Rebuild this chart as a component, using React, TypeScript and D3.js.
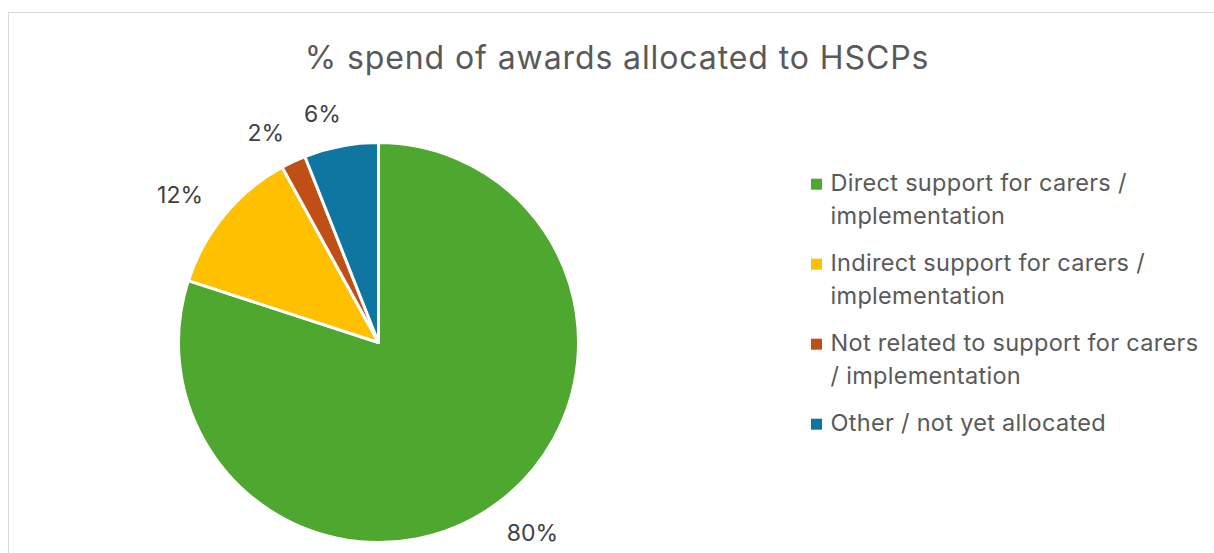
import React from "react";
import * as d3 from "d3";

const title = "% spend of awards allocated to HSCPs";
const categories = [
  "Direct support for carers / implementation",
  "Indirect support for carers / implementation",
  "Not related to support for carers / implementation",
  "Other / not yet allocated",
];
const values = [80, 12, 2, 6];
const valueLabels = ["80%", "12%", "2%", "6%"];
const colors = ["#4EA72E", "#FFC000", "#C04F15", "#0E76A0"];

const W = 1214;
const H = 553;
const FONT = "Inter, 'Liberation Sans', Arial, sans-serif";

function wrap(text: string, maxChars: number): string[] {
  const words = text.split(" ");
  const lines: string[] = [];
  let cur = "";
  for (const w of words) {
    const t = cur ? cur + " " + w : w;
    if (t.length > maxChars && cur) {
      lines.push(cur);
      cur = w;
    } else cur = t;
  }
  if (cur) lines.push(cur);
  return lines;
}

export default function App() {
  const cx = 378.5;
  const cy = 342.5;
  const r = 200;
  const pie = d3.pie<number>().sort(null).value((d) => d)(values);
  const arc = d3.arc<d3.PieArcDatum<number>>().innerRadius(0).outerRadius(r);

  const labelFont = 23;
  const capH = labelFont * 0.727;
  const gap = 23;
  const angleShift = (-3 * Math.PI) / 180;

  const legendX = 811;
  const lineH = 33;
  const itemGap = 14;
  let y = 190.7;
  const legendItems = categories.map((c, i) => {
    const lines = wrap(c, 34);
    const item = { lines, y, color: colors[i] };
    y += lines.length * lineH + itemGap;
    return item;
  });

  return (
    <svg
      width={W}
      height={H}
      style={{ position: "absolute", left: 0, top: 0, background: "#fff" }}
      fontFamily={FONT}
    >
      <rect x={8.5} y={12.5} width={1300} height={700} fill="#fff" stroke="#D9D9D9" strokeWidth={1} />
      <text x={617} y={68.5} textAnchor="middle" fontSize={32} letterSpacing={0.9} fill="#595959">
        {title}
      </text>
      <g transform={`translate(${cx},${cy})`}>
        {pie.map((p, i) => (
          <path key={i} d={arc(p) || ""} fill={colors[i]} stroke="#fff" strokeWidth={3} strokeLinejoin="round" />
        ))}
        {pie.map((p, i) => {
          const mid = (p.startAngle + p.endAngle) / 2 + angleShift;
          const ux = Math.sin(mid);
          const uy = -Math.cos(mid);
          const label = valueLabels[i];
          const w = label.length === 3 ? 48 : 34;
          const proj = Math.abs(ux) * (w / 2) + Math.abs(uy) * (capH / 2);
          const d = r + gap + proj;
          return (
            <text
              key={i}
              x={ux * d}
              y={uy * d + capH / 2}
              textAnchor="middle"
              fontSize={labelFont}
              fill="#404040"
            >
              {label}
            </text>
          );
        })}
      </g>
      {legendItems.map((it, i) => (
        <g key={i}>
          <rect x={legendX} y={it.y - 12} width={11} height={11} fill={it.color} />
          {it.lines.map((l, j) => (
            <text key={j} x={830.5} y={it.y + j * lineH} fontSize={23.5} letterSpacing={0.3} fill="#595959">
              {l}
            </text>
          ))}
        </g>
      ))}
    </svg>
  );
}
